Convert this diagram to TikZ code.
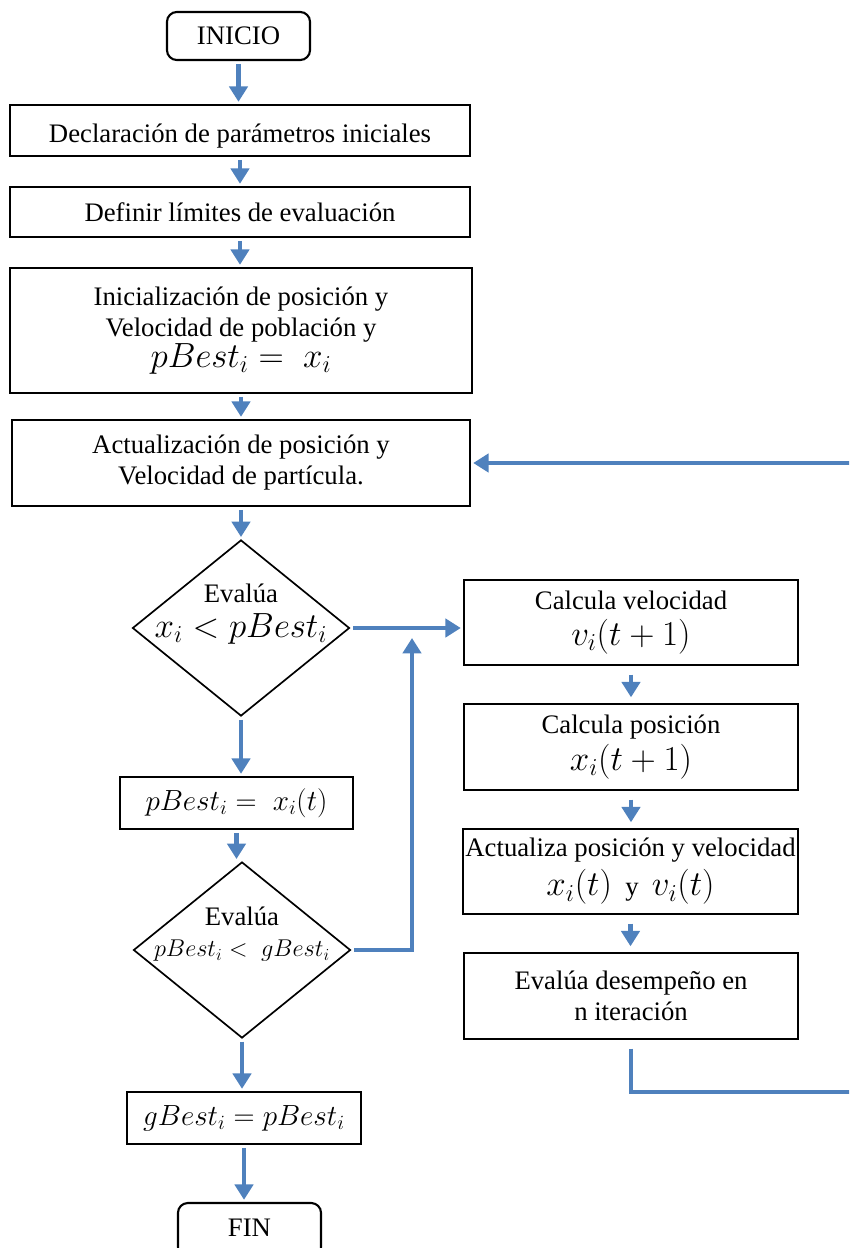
\documentclass[tikz,border=0pt]{standalone}
\usepackage{fontspec}
\setmainfont{Liberation Serif}
\usetikzlibrary{arrows.meta,shapes.geometric}
\definecolor{azul}{RGB}{79,129,189}
\newcommand{\formula}[2][23]{{\fontsize{#1}{#1}\selectfont$#2$}}

\begin{document}
\begin{tikzpicture}[x=0.025cm,y=-0.025cm,
    caja/.style={draw,line width=1.5pt,align=center,inner sep=0pt,font=\fontsize{19}{22}\selectfont},
    extremo/.style={caja,rounded corners=7pt,minimum width=3.575cm},
    decision/.style={draw,diamond,line width=1.2pt,inner sep=0pt,minimum width=5.425cm,minimum height=4.4cm},
    texto/.style={align=center,inner sep=0pt,font=\fontsize{19}{22}\selectfont},
    flecha/.style={azul,line width=3.2pt,shorten <=2pt,shorten >=1.5pt,-{Triangle[length=11pt,width=13pt]}}
  ]
    \useasboundingbox (0,0) rectangle (849,1248);
    \clip (0,0) rectangle (849,1248);

    % columna izquierda
    \node[extremo,minimum height=1.2cm] (inicio) at (238.5,36) {INICIO};
    \node[caja,minimum width=11.5cm,minimum height=1.275cm,text height=21pt,text depth=4.2pt] (decl) at (240,130.5) {Declaración de parámetros iniciales};
    \node[caja,minimum width=11.5cm,minimum height=1.25cm] (definir) at (240,212) {Definir límites de evaluación};
    \node[caja,minimum width=11.55cm,minimum height=3.125cm] (inic) at (241,330.5) {Inicialización de posición y\\ Velocidad de población y\\ \formula{pBest_i = \; x_i}};
    \node[caja,minimum width=11.45cm,minimum height=2.15cm] (actual) at (241,463) {Actualización de posición y\\ Velocidad de partícula.};
    \node[decision] (eval1) at (241,628) {};
    \node[texto] (teval1) at (241,614) {Evalúa\\[3pt] \formula{x_i < pBest_i}};
    \node[caja,minimum width=5.825cm,minimum height=1.3cm] (pbest) at (236.5,803) {\formula[20]{pBest_i = \; x_i(t)}};
    \node[decision] (eval2) at (242,950) {};
    \node[texto] (teval2) at (242,934) {Evalúa\\ \formula[17.5]{pBest_i < \; gBest_i}};
    \node[caja,minimum width=5.85cm,minimum height=1.3cm] (gbest) at (244,1118) {\formula[21]{gBest_i = pBest_i}};
    \node[extremo,minimum height=1.35cm] (fin) at (249.5,1230) {\raisebox{3pt}{FIN}};

    % columna derecha
    \node[caja,minimum width=8.35cm,minimum height=2.125cm] (calcv) at (631,622.5) {Calcula velocidad\\[4pt] \formula[24]{v_i(t+1)}};
    \node[caja,minimum width=8.35cm,minimum height=2.15cm] (calcp) at (631,747) {Calcula posición\\[3pt] \formula[24]{x_i(t+1)}};
    \node[caja,minimum width=8.375cm,minimum height=2.125cm] (actv) at (630.5,871.5) {Actualiza posición y velocidad\\[4pt] \formula[24]{x_i(t)}\ \ y\ \ \formula[24]{v_i(t)}};
    \node[caja,minimum width=8.35cm,minimum height=2.15cm] (evald) at (631,996) {Evalúa desempeño en\\ n iteración};

    % flechas verticales
    \foreach \a/\b in {inicio/decl,decl/definir,definir/inic,inic/actual,actual/eval1,eval1/pbest,pbest/eval2,eval2/gbest,gbest/fin}
      \draw[flecha] (\a.south) -- (\a.south |- \b.north);
    \foreach \a/\b in {calcv/calcp,calcp/actv,actv/evald}
      \draw[flecha,shorten <=6pt,shorten >=4pt] (\a.south) -- (\a.south |- \b.north);

    % ramas
    \coordinate (union) at (412,638);
    \coordinate (retorno) at (870,1092);
    \draw[flecha] (eval1.east) -- (eval1.east -| calcv.west);
    \draw[flecha,shorten >=0pt] (eval2.east) -| (union);
    \draw[flecha,shorten <=6pt] (evald.south) |- (retorno) |- (actual.east);
\end{tikzpicture}
\end{document}
